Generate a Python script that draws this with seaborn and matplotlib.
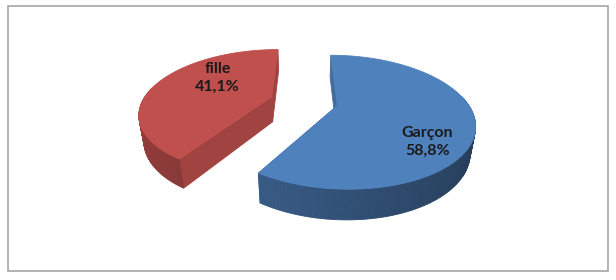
import numpy as np
import matplotlib
matplotlib.use("Agg")
import matplotlib.pyplot as plt
import seaborn as sns
from matplotlib.patches import Polygon, Rectangle
from matplotlib.colors import to_rgb

# ---- data ----
categories = ["Garçon", "fille"]
values = [58.8, 41.1]
pct_labels = ["58,8%", "41,1%"]
colors = ["#4F81BD", "#C0504D"]

# ---- style / layout ----
sns.set_theme(style="white")
plt.rcParams["font.family"] = ["Lato", "DejaVu Sans"]

W, H_PX = 616, 280
fig = plt.figure(figsize=(W / 100, H_PX / 100), dpi=100)
ax = fig.add_axes([0, 0, 1, 1])
ax.set_xlim(0, W)
ax.set_ylim(H_PX, 0)
ax.axis("off")

# chart frame
ax.add_patch(Rectangle((7.5, 5.5), 600, 265, fill=False, ec="#A6A6A6", lw=1.2))

ELEV = np.radians(28)
DIST = 3.6
SCALE = 129.0
CX, CY = 304.0, 101.0
THICK = 0.23
EXPLODE = [0.265, 0.265]
LABEL_POS = [(0.76, -42.0), (0.6, 144.0)]  # (radius, angle) in disc coords, per slice


def proj(x, y, z):
    x = np.asarray(x, float); y = np.asarray(y, float); z = np.asarray(z, float)
    sy = y * np.sin(ELEV) + z * np.cos(ELEV)
    depth = y * np.cos(ELEV) - z * np.sin(ELEV)
    s = DIST / (DIST + depth)
    return CX + SCALE * x * s, CY - SCALE * sy * s, depth


def shade(c, f):
    r, g, b = to_rgb(c)
    return (r * f, g * f, b * f)


total = sum(values)
start = 90.0
slices = []
for v, c, ex in zip(values, colors, EXPLODE):
    span = 360.0 * v / total
    a0, a1 = start - span, start  # ccw from a0 to a1
    mid = np.radians((a0 + a1) / 2)
    ox, oy = ex * np.cos(mid), ex * np.sin(mid)
    slices.append(dict(a0=a0, a1=a1, ox=ox, oy=oy, color=c))
    start -= span

walls = []  # (depth, xs, ys, color)
for s in slices:
    th = np.radians(np.linspace(s["a0"], s["a1"], 160))
    ox, oy = s["ox"], s["oy"]
    # outer wall strips
    for i in range(len(th) - 1):
        t0, t1 = th[i], th[i + 1]
        xs0, ys0 = ox + np.cos([t0, t1]), oy + np.sin([t0, t1])
        X = np.r_[xs0, xs0[::-1]]
        Y = np.r_[ys0, ys0[::-1]]
        Z = np.r_[0, 0, -THICK, -THICK]
        px, py, d = proj(X, Y, Z)
        tm = (t0 + t1) / 2
        if np.sin(tm) > 0.15:
            continue
        f = 0.62 - 0.16 * np.cos(tm)
        walls.append((d.mean(), px, py, shade(s["color"], f)))
    # radial faces
    for a in (s["a0"], s["a1"]):
        t = np.radians(a)
        X = np.array([ox, ox + np.cos(t), ox + np.cos(t), ox])
        Y = np.array([oy, oy + np.sin(t), oy + np.sin(t), oy])
        Z = np.array([0, 0, -THICK, -THICK])
        px, py, d = proj(X, Y, Z)
        walls.append((d.mean() + 0.05, px, py, shade(s["color"], 0.84)))

walls.sort(key=lambda w: -w[0])
for d, px, py, col in walls:
    ax.add_patch(Polygon(np.c_[px, py], closed=True, fc=col, ec=col, lw=0.6))

# top faces
for s in slices:
    th = np.radians(np.linspace(s["a0"], s["a1"], 200))
    X = np.r_[s["ox"], s["ox"] + np.cos(th)]
    Y = np.r_[s["oy"], s["oy"] + np.sin(th)]
    px, py, _ = proj(X, Y, np.zeros_like(X))
    ax.add_patch(Polygon(np.c_[px, py], closed=True, fc=s["color"], ec=s["color"], lw=0.6))

# labels
for s, cat, pl, (r, ang) in zip(slices, categories, pct_labels, LABEL_POS):
    t = np.radians(ang)
    lx, ly, _ = proj(s["ox"] + r * np.cos(t), s["oy"] + r * np.sin(t), 0.0)
    ax.text(float(lx), float(ly), f"{cat}\n{pl}", ha="center", va="center",
            fontsize=11.5, fontweight="bold", color="#1A1A1A", linespacing=1.3)

fig.savefig("out.png", dpi=100)
